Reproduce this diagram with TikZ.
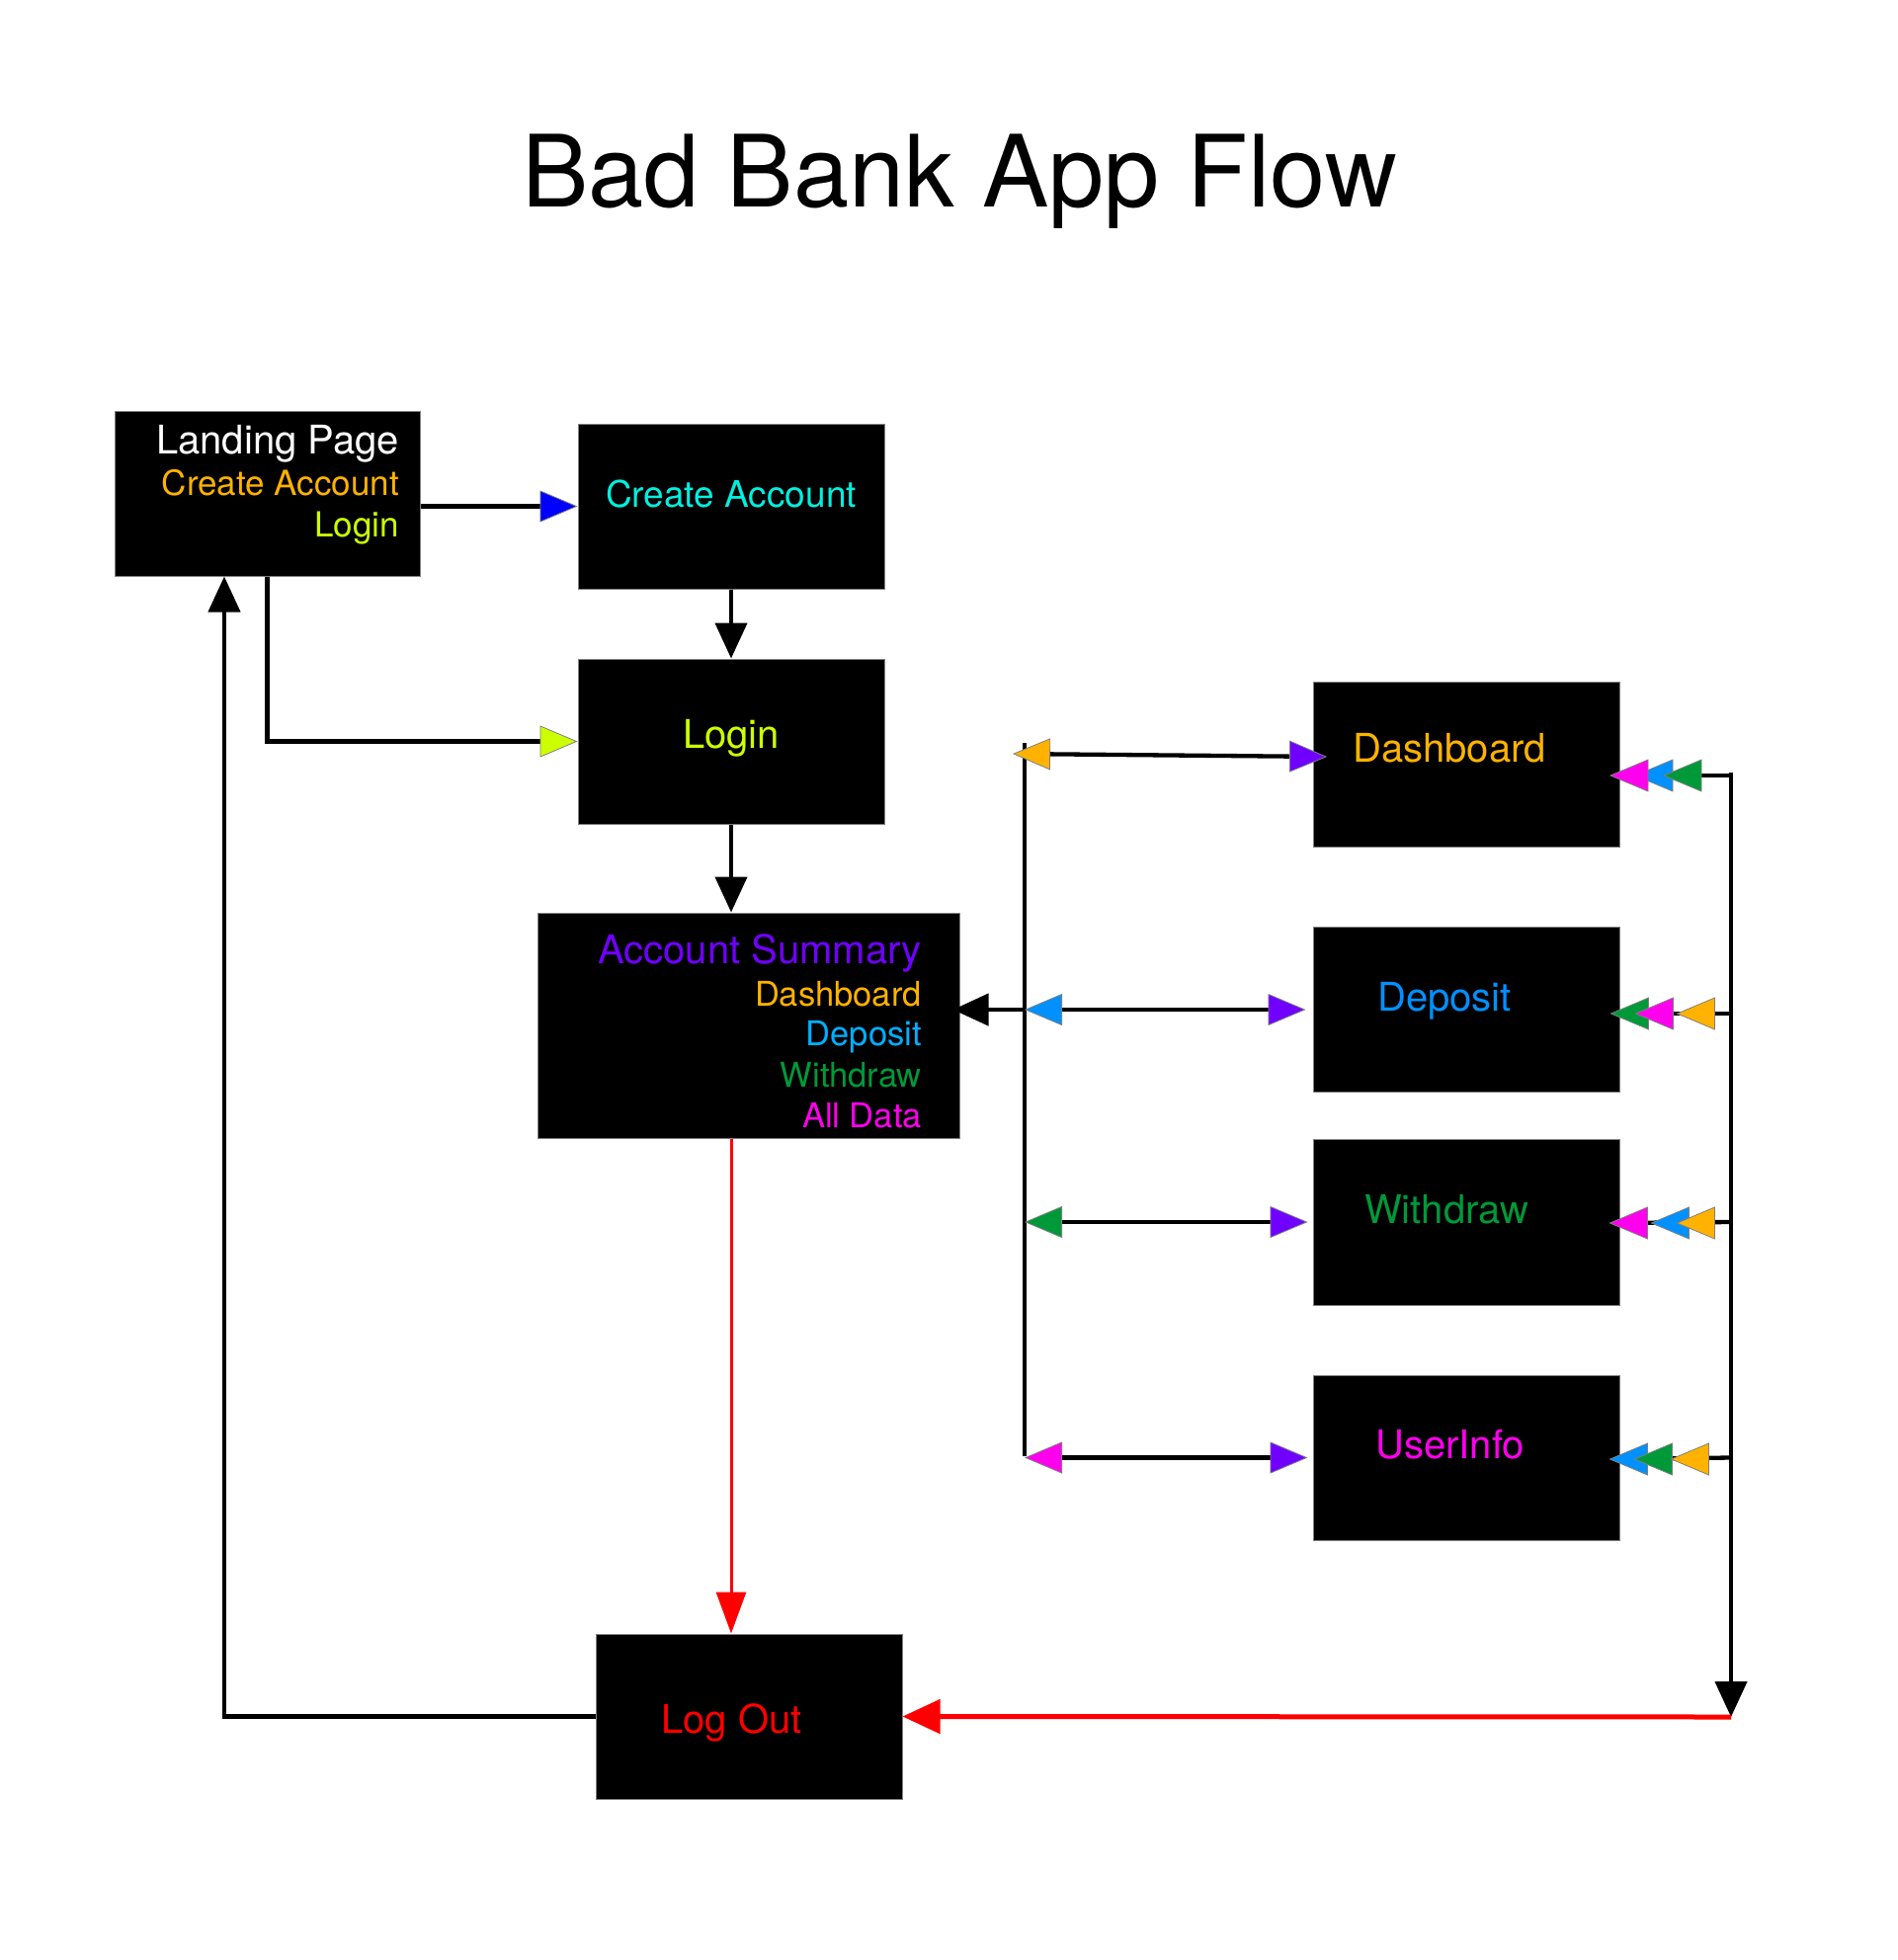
\documentclass[tikz,border=0pt]{standalone}
\usepackage{fontspec}
\setmainfont{TeX Gyre Heros}
\usetikzlibrary{arrows.meta,calc}
\definecolor{cOrange}{HTML}{FFB300}
\definecolor{cLime}{HTML}{CCFF00}
\definecolor{cCyan}{HTML}{00F0E0}
\definecolor{cPurple}{HTML}{7000FF}
\definecolor{cBlue}{HTML}{0091FF}
\definecolor{cSky}{HTML}{00B0FF}
\definecolor{cGreen}{HTML}{00993A}
\definecolor{cMagenta}{HTML}{FF00EE}
\definecolor{cPure}{HTML}{0000FF}
\definecolor{cRed}{HTML}{FF0000}
\definecolor{tipgray}{HTML}{808080}
\newcommand{\trileft}[2]{\filldraw[fill=#1,draw=tipgray,line width=0.8pt] ($#2$) -- ++(38,-16) -- ++(0,32) -- cycle;}
\begin{document}
\begin{tikzpicture}[x=1pt,y=-1pt,
  box/.style={draw=tipgray,line width=1pt,fill=black,inner sep=0pt,minimum width=310pt,minimum height=167pt},
  txt/.style={inner sep=0pt,font=\fontsize{#1}{#1}\selectfont},
  conn/.style={line width=4.3pt,black},
  blk/.style={-{Triangle[length=36pt,width=32pt]}},
  ctE/.style={-{Triangle[length=38pt,width=32pt,fill=#1,color=tipgray,line width=0.8pt]}},
  ctS/.style={{Triangle[length=38pt,width=32pt,fill=#1,color=tipgray,line width=0.8pt]}-},
  ctB/.style 2 args={{Triangle[length=38pt,width=32pt,fill=#1,color=tipgray,line width=0.8pt]}-{Triangle[length=38pt,width=32pt,fill=#2,color=tipgray,line width=0.8pt]}}]
\useasboundingbox[fill=white] (0,0) rectangle (1920,1984);

% title
\node[txt=101,anchor=base] (title) at (971,209) {Bad Bank App Flow};

% boxes
\node[box,minimum width=309pt] (landing) at (270.5,499.5) {};
\node[box] (createacc) at (740,512.5) {};
\node[box] (login) at (740,750.5) {};
\node[box,minimum width=427pt,minimum height=228pt] (acctsum) at (757.5,1038) {};
\node[box] (dash) at (1484.5,773.5) {};
\node[box] (dep) at (1484,1022) {};
\node[box,minimum height=168pt] (wd) at (1484,1237) {};
\node[box] (ui) at (1484,1475.5) {};
\node[box] (logout) at (758,1737.5) {};

% texts
\node[txt=40,anchor=base east,text=white] (lpT) at (404,459) {Landing Page};
\node[txt=35,anchor=base east,text=cOrange] (lpC) at (404,501) {Create Account};
\node[txt=35,anchor=base east,text=cLime] (lpL) at (404,543) {Login};
\node[txt=37,anchor=base,text=cCyan] (caT) at (740,513) {Create Account};
\node[txt=40,anchor=base,text=cLime] (lgT) at (740,757) {Login};
\node[txt=40,anchor=base east,text=cPurple] (asT) at (933,975) {Account Summary};
\node[txt=34.5,anchor=base east,text=cOrange] (asD) at (933,1018) {Dashboard};
\node[txt=34.5,anchor=base east,text=cSky] (asP) at (933,1058) {Deposit};
\node[txt=34.5,anchor=base east,text=cGreen] (asW) at (933,1100) {Withdraw};
\node[txt=34.5,anchor=base east,text=cMagenta] (asA) at (933,1141) {All Data};
\node[txt=40,anchor=base west,text=cOrange] (dashT) at (1369,771) {Dashboard};
\node[txt=40,anchor=base west,text=cBlue] (depT) at (1394,1023) {Deposit};
\node[txt=40,anchor=base west,text=cGreen] (wdT) at (1381,1238) {Withdraw};
\node[txt=40,anchor=base west,text=cMagenta] (uiT) at (1392,1476) {UserInfo};
\node[txt=40,anchor=base west,text=cRed] (loT) at (669,1754) {Log Out};

% helper coordinates
\coordinate (lcolTop) at (1037,752);
\coordinate (lcolBot) at (1037,1474);
\coordinate (dashL) at (1025,763);
\coordinate (rcolTop) at (1752,782);
\coordinate (rcolBot) at (1752,1738);
\coordinate (upx) at (227,1741);

% left flow
\draw[conn,ctE=cPure] (landing.east |- createacc.west) -- (createacc.west);
\draw[conn,ctE=cLime] (landing.south) |- (login.west);
\draw[conn,blk] (createacc.south) -- (login.north);
\draw[conn,blk] (login.south) -- (login.south |- acctsum.north);
\draw[line width=3pt,cRed,-{Triangle[length=42pt,width=30pt]}] (login.south |- acctsum.south) -- (login.south |- logout.north);
\draw[conn,blk] (logout.west) -- (upx |- logout.west) -- (upx |- landing.south);

% left column
\draw[conn] (lcolTop) -- (lcolBot);
\draw[conn,ctB={cOrange}{cPurple}] (dashL) -- ($(dash.west)+(14,-7.5)$);
\draw[conn,blk,shorten >=-7pt] (lcolTop |- dep.west) -- (acctsum.east |- dep.west);
\draw[conn,ctB={cBlue}{cPurple},shorten >=7pt] (lcolTop |- dep.west) -- (dep.west);
\draw[conn,ctB={cGreen}{cPurple},shorten >=5pt] (lcolTop |- wd.west) -- (wd.west);
\draw[conn,ctB={cMagenta}{cPurple},shorten >=5pt] (lcolTop |- ui.west) -- (ui.west);

% right column
\draw[conn,blk] (rcolTop) -- (rcolBot);
\draw[line width=5pt,cRed,-{Triangle[length=38pt,width=34pt]}] (rcolBot) -- (logout.east);

\draw[conn] (rcolTop |- 0,785) -- ($(dash.east)+(-10,11.5)$);
\trileft{cBlue}{(dash.east)+(15,11.5)}
\trileft{cGreen}{(dash.east)+(44,11.5)}
\trileft{cMagenta}{(dash.east)+(-10,11.5)}

\draw[conn] (rcolTop |- 0,1026) -- ($(dep.east)+(-9,4)$);
\trileft{cOrange}{(dep.east)+(58,4)}
\trileft{cGreen}{(dep.east)+(-9,4)}
\trileft{cMagenta}{(dep.east)+(16,4)}

\draw[conn] (rcolTop |- wd.east) -- ($(wd.east)+(-10,1)$);
\trileft{cMagenta}{(wd.east)+(-10,1)}
\trileft{cBlue}{(wd.east)+(32,1)}
\trileft{cOrange}{(wd.east)+(58,1)}

\draw[conn] (rcolTop |- ui.east) -- ($(ui.east)+(-10,1.5)$);
\trileft{cBlue}{(ui.east)+(-10,1.5)}
\trileft{cGreen}{(ui.east)+(15,1.5)}
\trileft{cOrange}{(ui.east)+(52,1.5)}
\end{tikzpicture}
\end{document}
